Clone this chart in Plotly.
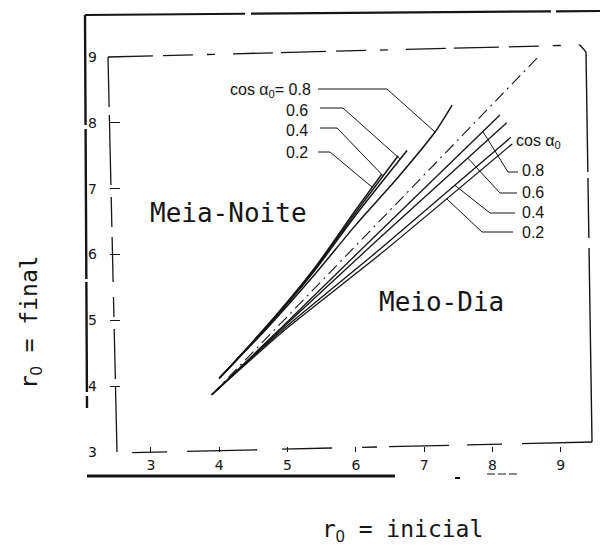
import numpy as np
import plotly.graph_objects as go

# ---- data: r0 inicial (x) -> r0 final (y) ----
# Meia-Noite (midnight) curves, one per cos(alpha0)
noite_08_x = [4.0, 4.7, 5.4, 6.0, 6.6, 7.16, 7.41]
noite_08_y = [4.12, 4.88, 5.70, 6.45, 7.15, 7.86, 8.27]
noite_06_x = [4.0, 4.7, 5.4, 6.0, 6.75]
noite_06_y = [4.12, 4.90, 5.76, 6.60, 7.58]
noite_04_x = [4.0, 4.7, 5.4, 6.0, 6.62]
noite_04_y = [4.12, 4.91, 5.78, 6.64, 7.50]
noite_02_x = [4.0, 4.7, 5.4, 6.0, 6.38]
noite_02_y = [4.12, 4.92, 5.80, 6.68, 7.22]

# Meio-Dia (noon) lines, one per cos(alpha0)
dia_08_x = [3.89, 4.92, 6.4, 8.11]
dia_08_y = [3.87, 4.90, 6.40, 8.12]
dia_06_x = [3.89, 4.92, 6.4, 8.21]
dia_06_y = [3.87, 4.88, 6.30, 8.00]
dia_04_x = [3.89, 4.92, 6.4, 8.27]
dia_04_y = [3.87, 4.85, 6.12, 7.78]
dia_02_x = [3.89, 4.92, 6.4, 8.29]
dia_02_y = [3.87, 4.82, 6.04, 7.68]

# dash-dot diagonal reference
diag_x = [3.89, 8.67]
diag_y = [3.87, 9.00]

cos_values = ["0.8", "0.6", "0.4", "0.2"]
x_ticks = [3, 4, 5, 6, 7, 8, 9]
y_ticks = [3, 4, 5, 6, 7, 8, 9]

# ---- layout geometry ----
W_PX, H_PX = 603, 556
L, R, T, B = 110, 15, 57, 104
PW, PH = W_PX - L - R, H_PX - T - B
X0, X1 = 2.4, 9.4
Y0, Y1 = 3.0, 9.0


def dx(px):
    return X0 + (px - L) * (X1 - X0) / PW


def dy(py):
    return Y1 - (py - T) * (Y1 - Y0) / PH


def pxp(px):
    return (px - L) / PW


def pyp(py):
    return (T + PH - py) / PH


INK = "#151515"
SUB0 = '<sub><span style="font-family:Liberation Sans">0</span></sub>'
fig = go.Figure()

noite = {
    "0.8": (noite_08_x, noite_08_y),
    "0.6": (noite_06_x, noite_06_y),
    "0.4": (noite_04_x, noite_04_y),
    "0.2": (noite_02_x, noite_02_y),
}
dia = {
    "0.8": (dia_08_x, dia_08_y),
    "0.6": (dia_06_x, dia_06_y),
    "0.4": (dia_04_x, dia_04_y),
    "0.2": (dia_02_x, dia_02_y),
}

fig.add_trace(go.Scatter(x=diag_x, y=diag_y, mode="lines",
                         line=dict(color=INK, width=1.1, dash="12px,5px,2px,5px"),
                         hoverinfo="skip", showlegend=False))
for c in cos_values:
    xs, ys = noite[c]
    fig.add_trace(go.Scatter(x=xs, y=ys, mode="lines", name=f"Meia-Noite {c}",
                             line=dict(color=INK, width=1.5, shape="spline", smoothing=0.6),
                             showlegend=False))
for c in cos_values:
    xs, ys = dia[c]
    fig.add_trace(go.Scatter(x=xs, y=ys, mode="lines", name=f"Meio-Dia {c}",
                             line=dict(color=INK, width=1.3, shape="spline", smoothing=0.5),
                             showlegend=False))

shapes = []
annotations = []

# leader lines and labels, Meia-Noite side (left)
left_lbl = {  # text right edge px, text py, elbow start px, elbow end px, leader py, x on curve
    "0.8": (313, 90, 318, 387, 89, 7.16),
    "0.6": (310, 110, 320, 343, 108, 6.65),
    "0.4": (310, 130, 320, 337, 128, 6.40),
    "0.2": (310, 152, 318, 330, 152, 6.24),
}
for c in cos_values:
    tx, ty, e0, e1, ly, xc = left_lbl[c]
    xs, ys = noite[c]
    yc = float(np.interp(xc, xs, ys))
    shapes.append(dict(type="path", xref="x", yref="y",
                       path=f"M {dx(e0)},{dy(ly)} L {dx(e1)},{dy(ly)} L {xc},{yc}",
                       line=dict(color=INK, width=1)))
    text = (f"cos α<sub>0</sub>= {c}" if c == "0.8" else c)
    annotations.append(dict(x=dx(tx), y=dy(ty), xref="x", yref="y", text=text,
                            showarrow=False, xanchor="right", yanchor="middle",
                            font=dict(family="Liberation Sans", size=16, color=INK)))

# leader lines and labels, Meio-Dia side (right)
right_lbl = {
    "0.8": (520, 170, 518, 508, 172, 7.86),
    "0.6": (520, 192, 517, 500, 193, 7.64),
    "0.4": (520, 212, 515, 490, 213, 7.45),
    "0.2": (520, 232, 513, 482, 232, 7.33),
}
for c in cos_values:
    tx, ty, e0, e1, ly, xc = right_lbl[c]
    xs, ys = dia[c]
    yc = float(np.interp(xc, xs, ys))
    shapes.append(dict(type="path", xref="x", yref="y",
                       path=f"M {dx(e0)},{dy(ly)} L {dx(e1)},{dy(ly)} L {xc},{yc}",
                       line=dict(color=INK, width=1)))
    annotations.append(dict(x=dx(tx), y=dy(ty), xref="x", yref="y", text=c,
                            showarrow=False, xanchor="left", yanchor="middle",
                            font=dict(family="Liberation Sans", size=16, color=INK)))
annotations.append(dict(x=dx(514), y=dy(141), xref="x", yref="y",
                        text="cos α<sub>0</sub>", showarrow=False,
                        xanchor="left", yanchor="middle",
                        font=dict(family="Liberation Sans", size=16, color=INK)))

# region labels
annotations.append(dict(x=dx(228), y=dy(213), xref="x", yref="y", text="Meia-Noite",
                        showarrow=False, xanchor="center", yanchor="middle",
                        font=dict(family="DejaVu Sans Mono", size=26, color=INK)))
annotations.append(dict(x=dx(441), y=dy(302), xref="x", yref="y", text="Meio-Dia",
                        showarrow=False, xanchor="center", yanchor="middle",
                        font=dict(family="DejaVu Sans Mono", size=26, color=INK)))

# axis titles
annotations.append(dict(x=pxp(402), y=pyp(530), xref="paper", yref="paper",
                        text=f"r{SUB0} = inicial", showarrow=False,
                        xanchor="center", yanchor="middle",
                        font=dict(family="DejaVu Sans Mono", size=23, color=INK)))
annotations.append(dict(x=pxp(30), y=pyp(322), xref="paper", yref="paper",
                        text=f"r{SUB0} = final", showarrow=False, textangle=-90,
                        xanchor="center", yanchor="middle",
                        font=dict(family="DejaVu Sans Mono", size=23, color=INK)))


def seg(x0, y0, x1, y1, width=1.2, dash="solid"):
    shapes.append(dict(type="line", xref="paper", yref="paper",
                       x0=pxp(x0), y0=pyp(y0), x1=pxp(x1), y1=pyp(y1),
                       line=dict(color=INK, width=width, dash=dash)))


# inner frame (broken print)
seg(108, 57, 580, 45, 1.3, "45px,10px,30px,14px,8px,18px,40px,8px")
seg(580, 45, 586, 52, 1.3)
seg(586, 52, 592, 442, 1.4, "120px,6px,60px,10px,200px,6px")
seg(592, 442, 117, 453, 1.3, "70px,20px,35px,18px,60px,12px,15px,30px,50px,25px")
seg(108, 57, 117, 452, 1.3, "50px,8px,70px,12px,30px,10px,45px,15px,20px,12px")

# outer border of the figure
seg(85, 15, 600, 11, 2.2, "160px,6px,300px,5px")
seg(85, 15, 87, 408, 2.4, "110px,4px,150px,3px")
seg(87, 476, 395, 476, 3.2)
seg(455, 478, 460, 478, 2)
seg(487, 474, 520, 474, 1.2, "8px,3px")

fig.update_layout(
    width=W_PX, height=H_PX,
    margin=dict(l=L, r=R, t=T, b=B),
    paper_bgcolor="white", plot_bgcolor="white",
    showlegend=False,
    shapes=shapes, annotations=annotations,
    xaxis=dict(range=[X0, X1], tickvals=x_ticks, ticktext=[str(v) for v in x_ticks],
               showgrid=False, zeroline=False, showline=False,
               ticks="inside", ticklen=5, tickcolor=INK, tickwidth=1,
               ticklabelstandoff=3,
               tickfont=dict(family="DejaVu Sans", size=14, color=INK)),
    yaxis=dict(range=[Y0, Y1], tickvals=y_ticks, ticktext=[str(v) for v in y_ticks],
               showgrid=False, zeroline=False, showline=False,
               ticks="inside", ticklen=10, tickcolor=INK, tickwidth=1,
               ticklabelstandoff=12,
               tickfont=dict(family="DejaVu Sans", size=14, color=INK)),
)

fig.write_html("out.html")
